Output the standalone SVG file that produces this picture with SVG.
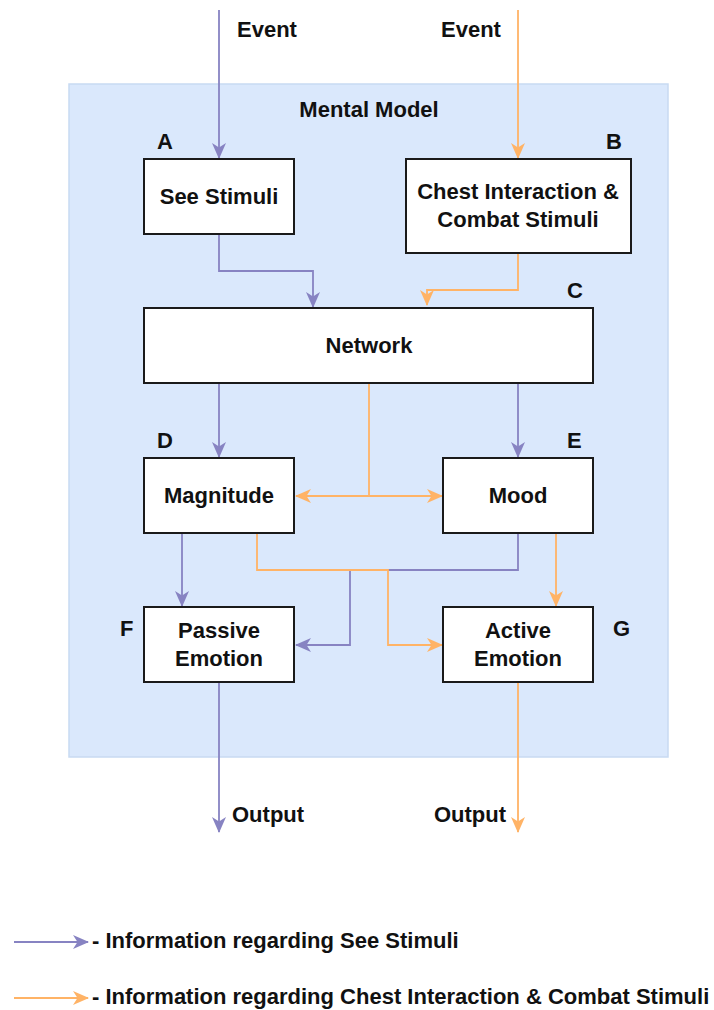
<svg xmlns="http://www.w3.org/2000/svg" width="714" height="1010" viewBox="0 0 714 1010">
  <style>
    text { font-family: "Liberation Sans", Arial, sans-serif; font-weight: bold; font-size: 22px; fill: #111; }
    .mid { text-anchor: middle; }
    .end { text-anchor: end; }
    .box { fill: #ffffff; stroke: #1a1a1a; stroke-width: 2; }
    .p { fill: none; stroke: #8783c2; stroke-width: 1.8; marker-end: url(#arrP); }
    .o { fill: none; stroke: #ffb366; stroke-width: 1.8; marker-end: url(#arrO); }
    .pl { fill: none; stroke: #8783c2; stroke-width: 1.8; }
    .ol { fill: none; stroke: #ffb366; stroke-width: 1.8; }
  </style>
  <defs>
    <marker id="arrP" viewBox="0 0 16 16" refX="15" refY="8" markerWidth="16" markerHeight="16" markerUnits="userSpaceOnUse" orient="auto">
      <path d="M0,1 L16,8 L0,15 L4.5,8 Z" fill="#8783c2"/>
    </marker>
    <marker id="arrO" viewBox="0 0 16 16" refX="15" refY="8" markerWidth="16" markerHeight="16" markerUnits="userSpaceOnUse" orient="auto">
      <path d="M0,1 L16,8 L0,15 L4.5,8 Z" fill="#ffb366"/>
    </marker>
  </defs>

  <rect width="714" height="1010" fill="#ffffff"/>

  <!-- Mental model container -->
  <g id="mental-model">
    <rect x="69" y="84" width="599" height="673" fill="#dae8fc" stroke="#c8daf2" stroke-width="1.5"/>
    <text class="mid" x="369" y="117">Mental Model</text>
  </g>

  <!-- Connectors -->
  <g id="connectors">
    <path class="p" d="M219,10 V158"/>
    <path class="o" d="M518,10 V158"/>
    <path class="p" d="M219,234 V271 H313 V307"/>
    <path class="o" d="M518,253 V290 H427 V305"/>
    <path class="p" d="M219,383 V457"/>
    <path class="p" d="M518,383 V457"/>
    <path class="ol" d="M369,383 V496"/>
    <path class="o" d="M369,496 H296"/>
    <path class="o" d="M369,496 H442"/>
    <path class="p" d="M182,533 V606"/>
    <path class="o" d="M556,533 V606"/>
    <path class="p" d="M518,533 V570 H350 V645 H296"/>
    <path class="o" d="M257,533 V570 H388 V645 H442"/>
    <path class="p" d="M219,683 V832"/>
    <path class="o" d="M518,683 V832"/>
  </g>

  <!-- Input / output labels -->
  <g id="io-labels">
    <text x="237" y="37">Event</text>
    <text x="441" y="37">Event</text>
    <text x="232" y="822">Output</text>
    <text class="end" x="506" y="822">Output</text>
  </g>

  <g id="node-a">
    <rect class="box" x="144" y="159" width="150" height="75"/>
    <text class="mid" x="219" y="204">See Stimuli</text>
    <text x="157" y="149">A</text>
  </g>
  <g id="node-b">
    <rect class="box" x="406" y="159" width="225" height="94"/>
    <text class="mid" x="518" y="199">Chest Interaction &amp;</text>
    <text class="mid" x="518" y="227">Combat Stimuli</text>
    <text x="606" y="149">B</text>
  </g>
  <g id="node-c">
    <rect class="box" x="144" y="308" width="449" height="75"/>
    <text class="mid" x="369" y="353">Network</text>
    <text x="567" y="298">C</text>
  </g>
  <g id="node-d">
    <rect class="box" x="144" y="458" width="150" height="75"/>
    <text class="mid" x="219" y="503">Magnitude</text>
    <text x="157" y="448">D</text>
  </g>
  <g id="node-e">
    <rect class="box" x="443" y="458" width="150" height="75"/>
    <text class="mid" x="518" y="503">Mood</text>
    <text x="567" y="448">E</text>
  </g>
  <g id="node-f">
    <rect class="box" x="144" y="607" width="150" height="75"/>
    <text class="mid" x="219" y="638">Passive</text>
    <text class="mid" x="219" y="666">Emotion</text>
    <text x="120" y="636">F</text>
  </g>
  <g id="node-g">
    <rect class="box" x="443" y="607" width="150" height="75"/>
    <text class="mid" x="518" y="638">Active</text>
    <text class="mid" x="518" y="666">Emotion</text>
    <text x="613" y="636">G</text>
  </g>

  <!-- Legend -->
  <g id="legend">
    <path class="p" d="M14,942 H88"/>
    <text x="92" y="948">- Information regarding See Stimuli</text>
    <path class="o" d="M14,998 H88"/>
    <text x="92" y="1004">- Information regarding Chest Interaction &amp; Combat Stimuli</text>
  </g>
</svg>
